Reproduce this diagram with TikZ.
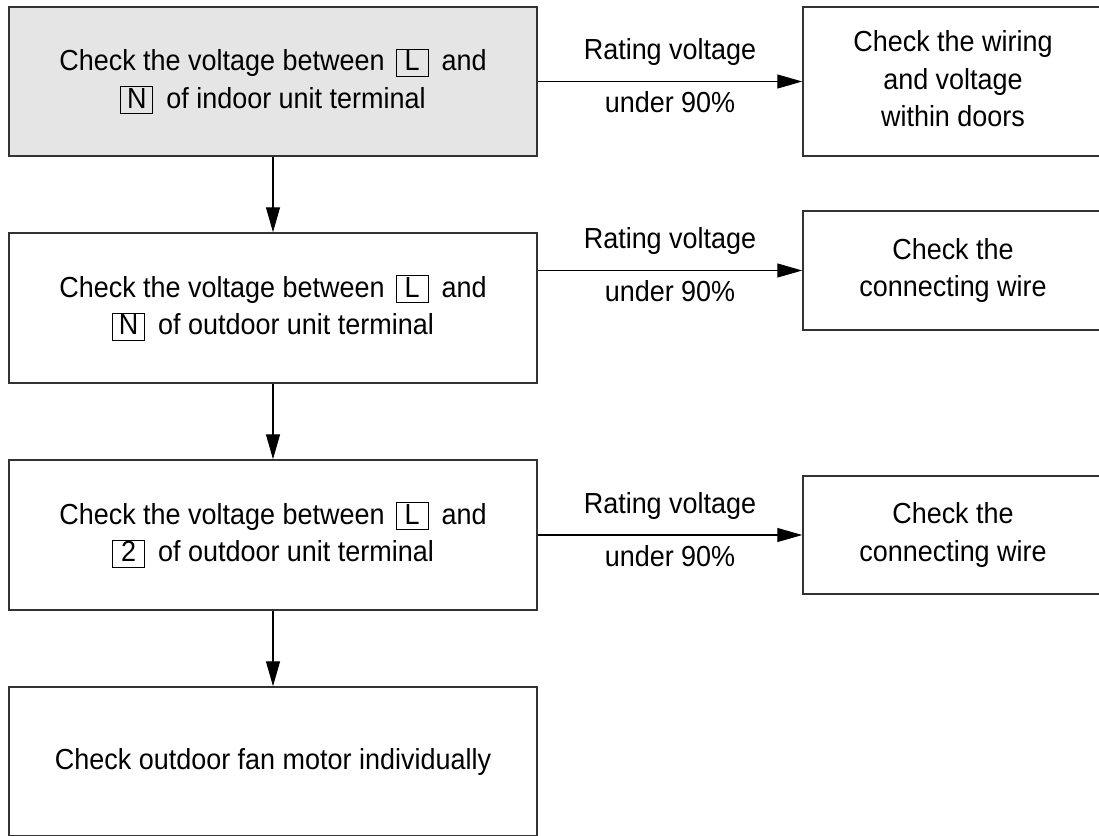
\documentclass[tikz,border=0pt]{standalone}
\usepackage{fontspec}
\setmainfont{Liberation Sans}[FakeStretch=0.93]
\usetikzlibrary{arrows.meta,calc}
\newcommand\tbox[1]{{\fboxsep=0pt\fboxrule=1pt\fbox{\makebox[31pt]{\rule[-5pt]{0pt}{26pt}#1}}}}
\newcommand\mst{\rule[-6pt]{0pt}{27pt}}
\begin{document}
\begin{tikzpicture}[x=1pt,y=-1pt,
  txt/.style={font=\fontsize{29}{37.7}\selectfont},
  box/.style={txt, draw=black!80, line width=1.5pt, minimum width=528pt, minimum height=150pt, inner sep=0pt, align=center},
  rbox/.style={box, minimum width=300pt},
  arr/.style={line width=1.1pt, -{Triangle[length=25pt,width=14pt]}},
  lbl/.style={txt, inner sep=0pt}]
\useasboundingbox (0,0) rectangle (1099,835);
% left column
\node[box, fill=black!10, minimum height=149pt] (b1) at (273,81.5)
  {\mst Check the voltage between\hspace{11pt}\tbox{L}\hspace{13pt}and\\ \tbox{N}\hspace{13pt}of indoor unit terminal\mst};
\node[box] (b2) at (273,308)
  {\mst Check the voltage between\hspace{11pt}\tbox{L}\hspace{13pt}and\\ \tbox{N}\hspace{13pt}of outdoor unit terminal\mst};
\node[box] (b3) at (273,535)
  {\mst Check the voltage between\hspace{11pt}\tbox{L}\hspace{13pt}and\\ \tbox{2}\hspace{13pt}of outdoor unit terminal\mst};
\node[box, minimum height=149pt] (b4) at (273,761.5)
  {\mst Check outdoor fan motor individually\mst};
% right column
\node[rbox, minimum height=149pt] (r1) at (953,81.5)
  {\mst Check the wiring\\ and voltage\\ within doors\mst};
\node[rbox, minimum height=119pt] (r2) at (953,270.5)
  {\mst Check the\\ connecting wire\mst};
\node[rbox, minimum height=118pt] (r3) at (953,535)
  {\mst Check the\\ connecting wire\mst};
% vertical arrows
\draw[arr] (b1.south) -- (b2.north);
\draw[arr] (b2.south) -- (b3.north);
\draw[arr] (b3.south) -- (b4.north);
% horizontal arrows
\draw[arr] (b1.east) -- (r1.west);
\draw[arr] (b2.east |- r2.west) -- (r2.west);
\draw[arr] (b3.east) -- (r3.west);
% labels
\coordinate (m1) at ($(b1.east)!0.5!(r1.west)$);
\coordinate (m2) at ($(b2.east |- r2.west)!0.5!(r2.west)$);
\coordinate (m3) at ($(b3.east)!0.5!(r3.west)$);
\node[lbl, anchor=base] (l1a) at ($(m1)+(0,-22)$) {Rating voltage};
\node[lbl, anchor=base] (l1b) at ($(m1)+(0,31)$) {under 90\%};
\node[lbl, anchor=base] (l2a) at ($(m2)+(0,-22)$) {Rating voltage};
\node[lbl, anchor=base] (l2b) at ($(m2)+(0,31)$) {under 90\%};
\node[lbl, anchor=base] (l3a) at ($(m3)+(0,-22)$) {Rating voltage};
\node[lbl, anchor=base] (l3b) at ($(m3)+(0,31)$) {under 90\%};
\end{tikzpicture}
\end{document}
